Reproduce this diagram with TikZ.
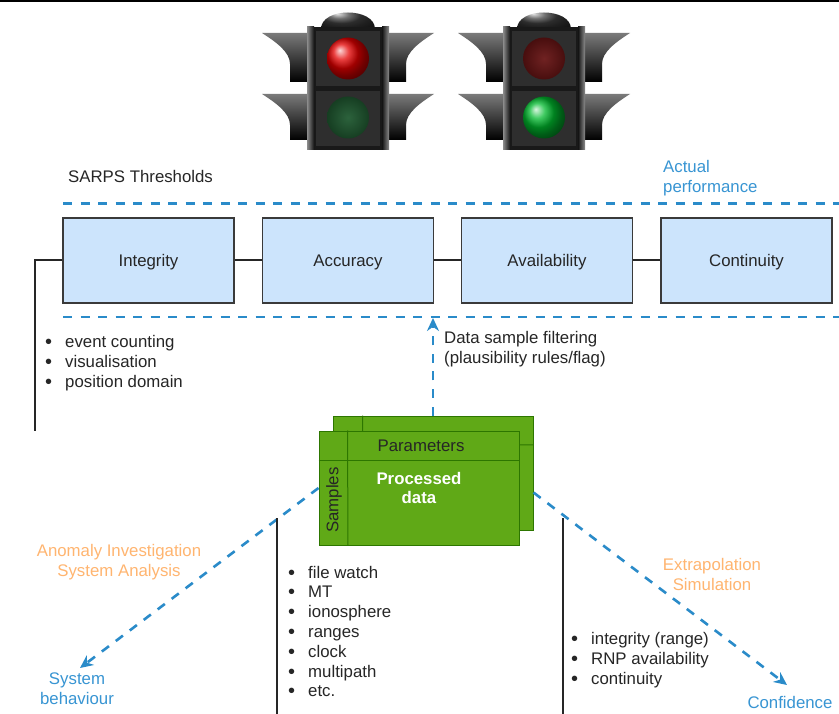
\documentclass[tikz,border=0pt]{standalone}
\usepackage{fontspec}
\setmainfont{Liberation Sans}
\usetikzlibrary{arrows.meta}

\definecolor{threshfill}{HTML}{CCE4FC}
\definecolor{threshedge}{HTML}{3A3A3A}
\definecolor{perfblue}{HTML}{2A8BC9}
\definecolor{notesblue}{HTML}{3895D3}
\definecolor{methodorange}{HTML}{FFB570}
\definecolor{datafill}{HTML}{60A917}
\definecolor{dataedge}{HTML}{2D7600}
\definecolor{inktext}{HTML}{262626}
\definecolor{lampred}{RGB}{228,0,0}
\definecolor{lampgreen}{RGB}{0,185,45}
\definecolor{dimredin}{RGB}{112,34,34}
\definecolor{dimredout}{RGB}{72,14,14}
\definecolor{dimgreenin}{RGB}{44,98,60}
\definecolor{dimgreenout}{RGB}{22,62,34}

\newcommand\listdot{\makebox[20pt][l]{\raisebox{-1pt}{\fontsize{20}{20}\selectfont\textbullet}}}

\tikzset{
  txt/.style={font=\fontsize{16.8}{20}\selectfont, text=inktext, inner sep=0pt},
  sarps/.style={txt, draw=threshedge, line width=1.3pt, fill=threshfill,
    minimum width=171pt, minimum height=85pt, text height=16pt, text depth=3.5pt},
  link/.style={draw=black!85, line width=2pt},
  perfline/.style={draw=perfblue, line width=2.6pt, dash pattern=on 9pt off 8.5pt},
  flow/.style={perfline, -{Stealth[length=13pt,width=12pt]}},
  datasheet/.style={draw=dataedge, line width=1pt, fill=datafill,
    minimum width=200pt, minimum height=114pt, inner sep=0pt},
  bullets/.style={txt, align=left, anchor=west},
  bluenote/.style={txt, text=notesblue, align=center},
  method/.style={txt, text=methodorange, align=center},
  litlamp/.style={ball color=#1},
  dimlamp/.style 2 args={inner color=#1, outer color=#2},
  % one traffic signal: #1 upper lamp style, #2 lower lamp style
  pics/signal/.style 2 args={code={
    \foreach \vy/\vh in {0/49,61/46}{
      \foreach \sx in {1,-1}{
        \begin{scope}[xscale=\sx]
          \shade[top color=black!52, bottom color=black]
            (-86,33+\vy) .. controls (-72,42+\vy) and (-58,52+\vy) .. (-58,64+\vy)
            -- (-58,33+\vy+\vh) -- (-40,33+\vy+\vh) -- (-40,33+\vy) -- cycle;
        \end{scope}
      }
    }
    \shade[ball color=black!75] (-27,29) .. controls (-27,7) and (27,7) .. (27,29) -- cycle;
    \fill[black!90] (-41,27) rectangle (41,150);
    \shade[left color=black!45, right color=black!92] (-41,27) rectangle (-34,150);
    \shade[left color=black!92, right color=black!45] (34,27) rectangle (41,150);
    \fill[black!82] (-32,31) rectangle (32,86);
    \fill[black!82] (-32,91) rectangle (32,146);
    \shade[#1] (0,58.5) circle (21);
    \shade[#2] (0,117.5) circle (21);
  }}
}

\begin{document}
\begin{tikzpicture}[x=1pt, y=-1pt]
  \useasboundingbox (0,0) rectangle (839,714);
  \fill[white] (0,0) rectangle (839,714);
  \draw[black, line width=2pt] (0,1) -- (839,1);

  % signals
  \pic at (348,0) {signal={litlamp=lampred}{dimlamp={dimgreenin}{dimgreenout}}};
  \pic at (544,0) {signal={dimlamp={dimredin}{dimredout}}{litlamp=lampgreen}};

  % headings
  \node[txt, anchor=west] (sarpshead) at (68,176) {SARPS Thresholds};
  \node[bluenote, align=left, anchor=west] (actual) at (663,178) {Actual\\performance};

  % performance band
  \coordinate (bandtl) at (63,203.5);
  \coordinate (bandtr) at (839,203.5);
  \coordinate (bandbl) at (63,317);
  \coordinate (bandbr) at (839,317);
  \draw[perfline] (bandtl) -- (bandtr);
  \draw[perfline] (bandbl) -- (bandbr);

  % SARPS thresholds
  \node[sarps] (integ) at (148.5,260.5) {Integrity};
  \node[sarps] (accur) at (348,260.5) {Accuracy};
  \node[sarps] (avail) at (547,260.5) {Availability};
  \node[sarps] (conti) at (746.5,260.5) {Continuity};
  \draw[link] (integ) -- (accur);
  \draw[link] (accur) -- (avail);
  \draw[link] (avail) -- (conti);
  \coordinate (leftfoot) at (35,431);
  \draw[link] (integ.west) -| (leftfoot);

  \node[bullets] (domainlist) at (45,363)
    {\listdot event counting\\\listdot visualisation\\\listdot position domain};

  % processed data stack
  \node[datasheet] (back) at (433,473) {};
  \draw[dataedge, line width=1pt] (back.north west) ++(30,0) -- ++(0,29) -- (back.east |- 0,445);
  \node[datasheet, txt, text=white, font=\fontsize{16.8}{19}\selectfont\bfseries,
        align=center] (front) at (419,488) {Processed\\data};
  \draw[dataedge, line width=1pt] (front.north west) ++(29,0) -- (front.south west -| 348,0);
  \draw[dataedge, line width=1pt] (front.west |- 0,460.5) -- (front.east |- 0,460.5);
  \node[txt, text=black!85] (params) at (421,446) {Parameters};
  \node[txt, text=black!85, rotate=90] (samples) at (334,500) {Samples};

  % filtering
  \coordinate (filtertip) at (433,318);
  \draw[flow] (back.north) -- (filtertip);
  \node[txt, align=left, anchor=west] (filtering) at (444,349)
    {Data sample filtering\\(plausibility rules/flag)};

  % investigation and extrapolation
  \coordinate (systip) at (80,668);
  \draw[flow] (front.west) -- (systip);
  \node[method] (anomaly) at (119,562) {Anomaly Investigation\\System Analysis};
  \node[bluenote] (sysbeh) at (77,689) {System\\behaviour};

  \coordinate (conftip) at (787,685);
  \draw[flow] (back.-11) -- (conftip);
  \node[method] (extrap) at (712,574) {Extrapolation\\Simulation};
  \node[bluenote] (confid) at (790,702) {Confidence};

  % monitored quantities
  \coordinate (midtop) at (277,518);
  \coordinate (midfoot) at (277,714);
  \coordinate (righttop) at (563,518);
  \coordinate (rightfoot) at (563,714);
  \draw[link] (midtop) -- (midfoot);
  \draw[link] (righttop) -- (rightfoot);

  \node[bullets, font=\fontsize{16.8}{19.8}\selectfont] (paramlist) at (288,632)
    {\listdot file watch\\\listdot MT\\\listdot ionosphere\\\listdot ranges\\\listdot clock\\\listdot multipath\\\listdot etc.};
  \node[bullets] (servicelist) at (571,660.5)
    {\listdot integrity (range)\\\listdot RNP availability\\\listdot continuity};
\end{tikzpicture}
\end{document}
